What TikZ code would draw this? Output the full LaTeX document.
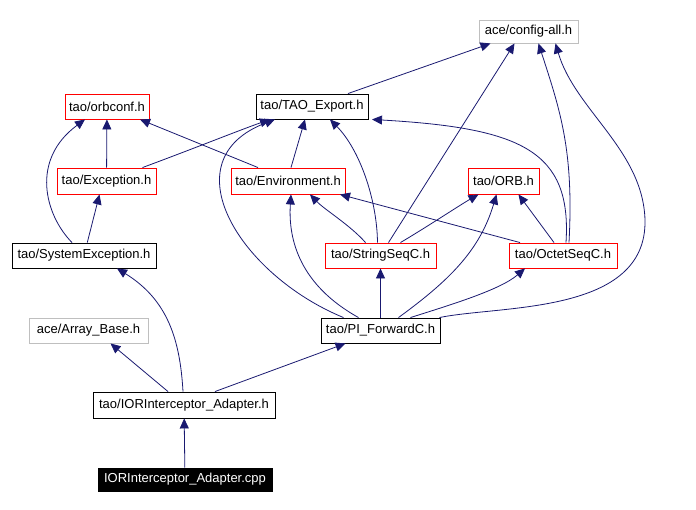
\documentclass[tikz,border=0pt]{standalone}
\usepackage{fontspec}
\setmainfont{Liberation Sans}
\usetikzlibrary{arrows.meta}
\definecolor{edgeblue}{HTML}{191970}
\definecolor{extgray}{HTML}{BFBFBF}
\tikzset{
    every node/.style={rectangle, inner sep=0mm, draw, line width=0.9pt, font=\fontsize{13}{15}\selectfont},
    redbox/.style={draw=red},
    blackbox/.style={draw=black},
    graybox/.style={draw=extgray},
    rootbox/.style={fill=black, text=white},
    dep/.style={draw=edgeblue, line width=0.8pt, -{Triangle[length=10pt, width=9pt]}}
}

\begin{document}
\begin{tikzpicture}[x=1pt, y=-1pt]
        \useasboundingbox (0,0) rectangle (696,510);
        \node (cfgall) [graybox, minimum width=99pt, minimum height=23pt] at (528.5, 31.5) {ace/config-all.h};
        \node (orbconf) [redbox, minimum width=84pt, minimum height=25pt] at (107, 106.5) {tao/orbconf.h};
        \node (taoexport) [blackbox, minimum width=112pt, minimum height=25pt] at (312, 106.5) {tao/TAO\_Export.h};
        \node (exception) [redbox, minimum width=99pt, minimum height=26pt] at (106.5, 181) {tao/Exception.h};
        \node (environment) [redbox, minimum width=114pt, minimum height=26pt] at (288, 181) {tao/Environment.h};
        \node (orb) [redbox, minimum width=71pt, minimum height=26pt] at (503.5, 181) {tao/ORB.h};
        \node (sysexc) [blackbox, minimum width=144pt, minimum height=25pt] at (84, 255.5) {tao/SystemException.h};
        \node (stringseq) [redbox, minimum width=111pt, minimum height=25pt] at (380.5, 255.5) {tao/StringSeqC.h};
        \node (octetseq) [redbox, minimum width=108pt, minimum height=25pt] at (563, 255.5) {tao/OctetSeqC.h};
        \node (arraybase) [graybox, minimum width=119pt, minimum height=25pt] at (88.5, 330.5) {ace/Array\_Base.h};
        \node (piforward) [blackbox, minimum width=119pt, minimum height=25pt] at (380.5, 330.5) {tao/PI\_ForwardC.h};
        \node (adapter) [blackbox, minimum width=182pt, minimum height=26pt] at (184, 405) {tao/IORInterceptor\_Adapter.h};
        \node (cpp) [rootbox, minimum width=174pt, minimum height=23pt] at (185, 479.5) {IORInterceptor\_Adapter.cpp};
        % includes of the top headers
        \draw (exception) edge [dep] (orbconf);
        \draw [dep] ([xshift=-12]sysexc.north) .. controls (45,215) and (30,160) .. ([xshift=-22]orbconf.south);
        \draw [dep] ([xshift=-30]environment.north) -- ([xshift=33]orbconf.south);
        \draw [dep] ([xshift=36]exception.north) .. controls (190,150) and (240,130) .. ([xshift=-42]taoexport.south);
        \draw [dep] ([xshift=3]environment.north) -- ([xshift=-7]taoexport.south);
        \draw [dep] ([xshift=-3]stringseq.north) .. controls (377,200) and (360,150) .. ([xshift=18]taoexport.south);
        \draw [dep] ([xshift=-37]piforward.north) .. controls (240,275) and (168,160) .. ([xshift=-37]taoexport.south);
        \draw [dep] ([xshift=3]octetseq.north) .. controls (572,150) and (520,128) .. ([xshift=60]taoexport.south);
        \draw [dep] ([xshift=36]taoexport.north) -- ([xshift=-38]cfgall.south);
        \draw [dep] ([xshift=8]stringseq.north) -- ([xshift=-14]cfgall.south);
        \draw [dep] ([xshift=6]octetseq.north) .. controls (574,150) and (560,110) .. ([xshift=10]cfgall.south);
        \draw [dep] ([xshift=59]piforward.north) .. controls (500,305) and (647,315) .. (645,220) .. controls (643,150) and (575,110) .. ([xshift=27]cfgall.south);
        % includes of the middle headers
        \draw (sysexc) edge [dep] ([xshift=-7]exception.south);
        \draw [dep] ([xshift=-15]stringseq.north) .. controls (350,225) and (325,210) .. ([xshift=22]environment.south);
        \draw [dep] ([xshift=-43]octetseq.north) -- ([xshift=52]environment.south);
        \draw [dep] ([xshift=-22]piforward.north) .. controls (300,285) and (288,240) .. ([xshift=3]environment.south);
        \draw [dep] ([xshift=20]stringseq.north) .. controls (430,225) and (460,205) .. ([xshift=-25]orb.south);
        \draw [dep] ([xshift=-9]octetseq.north) -- ([xshift=15]orb.south);
        \draw [dep] ([xshift=18]piforward.north) .. controls (450,280) and (480,250) .. ([xshift=-7]orb.south);
        \draw (piforward) edge [dep] (stringseq);
        \draw [dep] ([xshift=30]piforward.north) .. controls (450,305) and (500,290) .. ([xshift=-38]octetseq.south);
        % includes of the adapter
        \draw [dep] ([xshift=-1]adapter.north) .. controls (180,340) and (168,300) .. ([xshift=33]sysexc.south);
        \draw [dep] ([xshift=-16]adapter.north) -- ([xshift=22]arraybase.south);
        \draw [dep] ([xshift=31]adapter.north) -- ([xshift=-35]piforward.south);
        \draw (cpp) edge [dep] (adapter);
\end{tikzpicture}
\end{document}
